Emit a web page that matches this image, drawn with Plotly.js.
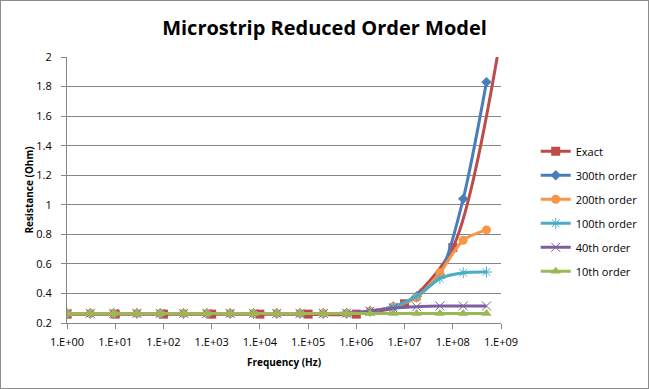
<!DOCTYPE html>
<html><head><meta charset="utf-8">
<script src="https://cdn.plot.ly/plotly-3.0.1.min.js"></script>
<style>
html,body{margin:0;padding:0;background:#fff;}
#wrap{position:absolute;left:0;top:0;width:647px;height:387px;border:1px solid #8c8c8c;}
#chart{width:647px;height:387px;}
</style></head>
<body><div id="wrap"><div id="chart"></div></div>
<script>
// Exact solution sampled at decades
const exactFreq = [1, 10, 100, 1000, 1e4, 1e5, 1e6, 1e7, 1e8, 1e9];
const exactR    = [0.26, 0.26, 0.26, 0.26, 0.26, 0.26, 0.26, 0.33, 0.71, 2.15];
// Reduced order models sampled at 19 log-spaced frequencies
const modelFreq = [1, 3.043, 9.26, 28.18, 85.76, 260.9, 794.1, 2416, 7352, 22370, 68070,
                   207100, 630200, 1.918e6, 5.836e6, 1.776e7, 5.404e7, 1.644e8, 5e8];
const r300 = [0.265,0.265,0.265,0.265,0.265,0.265,0.265,0.265,0.265,0.265,0.265,0.265,0.266,0.28,0.31,0.38,0.53,1.04,1.83];
const r200 = [0.265,0.265,0.265,0.265,0.265,0.265,0.265,0.265,0.265,0.265,0.265,0.265,0.266,0.28,0.31,0.37,0.54,0.76,0.83];
const r100 = [0.265,0.265,0.265,0.265,0.265,0.265,0.265,0.265,0.265,0.265,0.265,0.265,0.266,0.28,0.31,0.38,0.50,0.54,0.545];
const r40  = [0.265,0.265,0.265,0.265,0.265,0.265,0.265,0.265,0.265,0.265,0.265,0.265,0.266,0.28,0.30,0.31,0.315,0.315,0.315];
const r10  = [0.265,0.265,0.265,0.265,0.265,0.265,0.265,0.265,0.265,0.265,0.265,0.265,0.265,0.265,0.265,0.265,0.265,0.265,0.265];
const seriesNames = ["Exact", "300th order", "200th order", "100th order", "40th order", "10th order"];
const xTickVals = [1, 10, 100, 1000, 1e4, 1e5, 1e6, 1e7, 1e8, 1e9];
const xTickText = ["1.E+00","1.E+01","1.E+02","1.E+03","1.E+04","1.E+05","1.E+06","1.E+07","1.E+08","1.E+09"];

const colors = ["#BE4B48", "#4A7EBB", "#F79646", "#4BACC6", "#7D5FA0", "#98B954"];
const symbols = ["square", "diamond", "circle", "asterisk-open", "x-thin-open", "triangle-up"];
const sizes = [9, 8, 9, 9, 9, 9];
const ys = [exactR, r300, r200, r100, r40, r10];

const traces = ys.map((y, i) => {
  const open = symbols[i].indexOf("open") >= 0;
  return {
    x: i === 0 ? exactFreq : modelFreq,
    y: y,
    name: seriesNames[i],
    legendgroup: "g" + i,
    type: "scatter",
    mode: "lines+markers",
    line: {color: colors[i], width: 3, shape: "spline", smoothing: 0.8},
    marker: {symbol: symbols[i], size: sizes[i], color: colors[i],
             line: {color: colors[i], width: open ? 1 : 0}}
  };
});

const fontFam = "'Open Sans', 'Liberation Sans', sans-serif";
const layout = {
  width: 647, height: 387,
  paper_bgcolor: "#fff", plot_bgcolor: "#fff",
  margin: {l: 66, r: 147, t: 56, b: 65, autoexpand: false},
  font: {family: fontFam, size: 10, color: "#000"},
  title: {text: "<b>Microstrip Reduced Order Model</b>", font: {family: fontFam, size: 20, color: "#000"},
          x: 0.5, xanchor: "center", y: 0.93, yanchor: "middle"},
  showlegend: true,
  legend: {x: 1.08, xanchor: "left", y: 0.70, yanchor: "top", font: {size: 11, family: fontFam},
           tracegroupgap: 5, bgcolor: "rgba(0,0,0,0)"},
  xaxis: {type: "log", range: [0, 9], tickvals: xTickVals, ticktext: xTickText,
          showgrid: false, zeroline: false, showline: true, linecolor: "#868686", linewidth: 1,
          ticks: "outside", ticklen: 5, tickcolor: "#868686", ticklabelstandoff: 4,
          tickfont: {size: 11}, title: {text: "<b>Frequency (Hz)</b>", font: {size: 10}, standoff: 10}},
  yaxis: {range: [0.2, 2], dtick: 0.2, tick0: 0.2,
          showgrid: true, gridcolor: "#868686", gridwidth: 1, zeroline: false,
          showline: true, linecolor: "#868686", linewidth: 1,
          ticks: "outside", ticklen: 5, tickcolor: "#868686", ticklabelstandoff: 7,
          tickfont: {size: 11}, title: {text: "<b>Resistance (Ohm)</b>", font: {size: 10}, standoff: 0}}
};
Plotly.newPlot("chart", traces, layout, {displayModeBar: false, staticPlot: true});
</script></body></html>
